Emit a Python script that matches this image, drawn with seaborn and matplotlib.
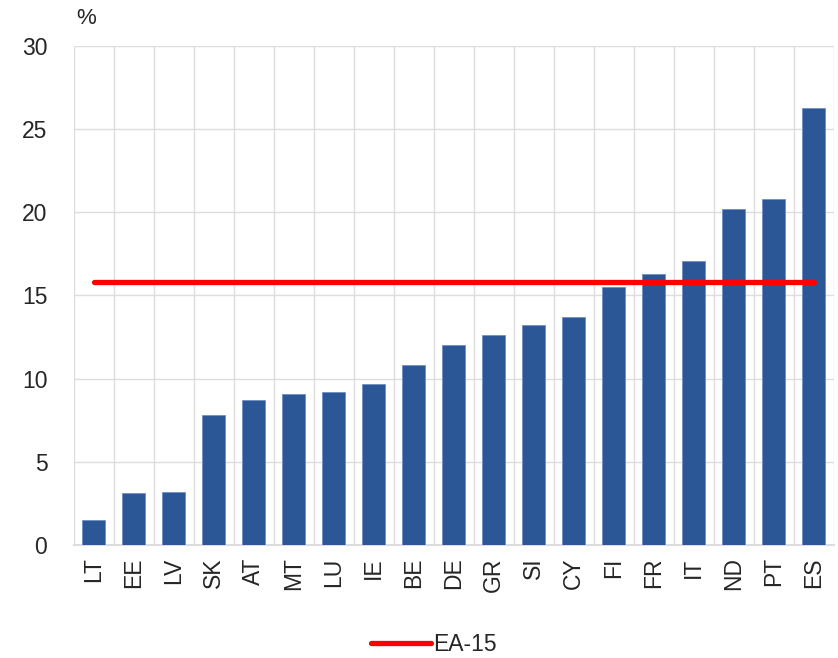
import numpy as np
import pandas as pd
import matplotlib
matplotlib.use('Agg')
import matplotlib.pyplot as plt
import seaborn as sns

# Données
countries = ['LT', 'EE', 'LV', 'SK', 'AT', 'MT', 'LU', 'IE', 'BE', 'DE',
             'GR', 'SI', 'CY', 'FI', 'FR', 'IT', 'ND', 'PT', 'ES']
values = [1.5, 3.1, 3.2, 7.8, 8.7, 9.1, 9.2, 9.7, 10.8, 12.0,
          12.6, 13.2, 13.7, 15.5, 16.3, 17.1, 20.2, 20.8, 26.3]
ea15_avg = 15.8
yticks = [0, 5, 10, 15, 20, 25, 30]

df = pd.DataFrame({'pays': countries, 'valeur': values})

sns.set_theme(style='white')
plt.rcParams['font.family'] = ['Liberation Sans', 'DejaVu Sans']

fig, ax = plt.subplots(figsize=(8.38, 6.58), dpi=100)
fig.subplots_adjust(left=0.088, right=0.995, top=0.930, bottom=0.172)

sns.barplot(data=df, x='pays', y='valeur', color='#2B5797', saturation=1,
            width=0.58, edgecolor='#6F8FC0', linewidth=0.6, ax=ax, zorder=3)

# Moyenne EA-15
ax.plot(countries, [ea15_avg] * len(countries), color='#FF0000', linewidth=3.8,
        solid_capstyle='round', zorder=4, label='EA-15')

ax.set_ylim(0, 30)
ax.set_xlim(-0.5, len(countries) - 0.5)
ax.set_yticks(yticks)
ax.set_xlabel('')
ax.set_ylabel('')

# Grille
ax.set_xticks(np.arange(-0.5, len(countries)), minor=True)
ax.grid(axis='y', which='major', color='#DDDDDD', linewidth=1, zorder=0)
ax.grid(axis='x', which='minor', color='#DDDDDD', linewidth=1, zorder=0)
ax.tick_params(axis='x', which='both', length=0, labelsize=16.5, rotation=90, pad=9)
ax.tick_params(axis='y', length=0, labelsize=16.5, pad=19)
for s in ['top', 'right', 'left']:
    ax.spines[s].set_visible(False)
ax.spines['bottom'].set_color('#DDDDDD')
ax.spines['bottom'].set_linewidth(1.5)

ax.text(0.003, 1.035, '%', transform=ax.transAxes, fontsize=16, ha='left', va='bottom')

fig.legend(loc='center', bbox_to_anchor=(0.518, 0.02), frameon=False,
           fontsize=16.5, handlelength=2.6, handletextpad=0.1)

plt.savefig('out.png', dpi=100)
